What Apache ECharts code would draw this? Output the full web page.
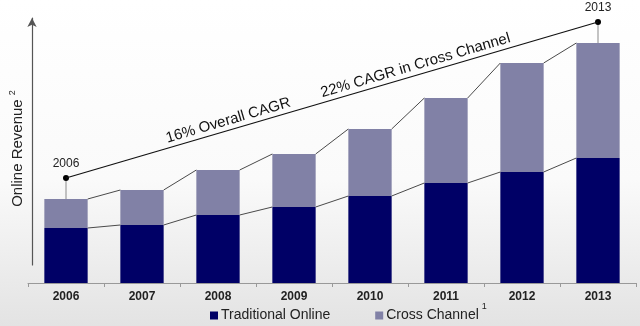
<!DOCTYPE html>
<html><head><meta charset="utf-8">
<script src="https://cdn.jsdelivr.net/npm/echarts@6/dist/echarts.min.js"></script>
<style>html,body{margin:0;padding:0;}#c{width:640px;height:326px;}</style>
</head><body><div id="c"></div>
<script>
const years = ['2006','2007','2008','2009','2010','2011','2012','2013'];
const traditional = [55,58,68,76,87,100,111,125];
const crossChannel = [29,35,45,53,67,85,109,115];
const cagrYears = ['2006','2013'];
const cagrIndex = [0,7];
const cagrValues = [105,261];
const overallLabel = '16% Overall CAGR';
const crossLabel = '22% CAGR in Cross Channel';
const yName = 'Online Revenue';

const totals = traditional.map((v,i)=>v+crossChannel[i]);
const FONT = 'Liberation Sans, Arial, sans-serif';
const chart = echarts.init(document.getElementById('c'));

function connectors(params, api) {
  const i = params.dataIndex;
  if (i >= years.length - 1) return null;
  const half = api.size([1,0])[0] * 0.57 / 2;
  const lines = [];
  [traditional[i], totals[i]].forEach((v, k) => {
    const nv = k === 0 ? traditional[i+1] : totals[i+1];
    const a = api.coord([i, v]), b = api.coord([i+1, nv]);
    lines.push({type:'line', shape:{x1:a[0]+half, y1:a[1], x2:b[0]-half, y2:b[1]},
      style:{stroke:'#4a4a4a', lineWidth:1}});
  });
  return {type:'group', children: lines};
}

function markers(params, api) {
  const idx = cagrIndex[params.dataIndex];
  const p = api.coord([idx, cagrValues[params.dataIndex]]);
  const t = api.coord([idx, totals[idx]]);
  return {type:'group', children:[
    {type:'line', shape:{x1:p[0], y1:p[1], x2:t[0], y2:t[1]}, style:{stroke:'#8a8a8a', lineWidth:1}},
    {type:'circle', shape:{cx:p[0], cy:p[1], r:3}, style:{fill:'#000'}},
    {type:'text', x:p[0], y:p[1]-8, style:{text:cagrYears[params.dataIndex], fill:'#222', font:'12px '+FONT, align:'center', verticalAlign:'bottom'}}
  ]};
}

function cagrLine(params, api) {
  const a = api.coord([cagrIndex[0], cagrValues[0]]);
  const b = api.coord([cagrIndex[1], cagrValues[1]]);
  const ang = Math.atan2(a[1]-b[1], b[0]-a[0]);
  function lab(txt, f) {
    const x = a[0] + (b[0]-a[0])*f, y = a[1] + (b[1]-a[1])*f;
    const off = 2;
    return {type:'text', x: x - Math.sin(ang)*off, y: y - Math.cos(ang)*off, rotation: ang,
      style:{text:txt, fill:'#111', font:'15px '+FONT, align:'center', verticalAlign:'bottom'}};
  }
  return {type:'group', children:[
    {type:'line', shape:{x1:a[0], y1:a[1], x2:b[0], y2:b[1]}, style:{stroke:'#111', lineWidth:1.3}},
    lab(overallLabel, 0.31),
    lab(crossLabel, 0.662)
  ]};
}

chart.setOption({
  backgroundColor: {type:'linear', x:0, y:0, x2:0, y2:1, colorStops:[
    {offset:0, color:'#ffffff'}, {offset:0.55, color:'#fafafa'}, {offset:1, color:'#e3e3e3'}]},
  animation: false,
  grid: [
    {left:28, right:4, top:18, bottom:43},
    {left:29, right:4, top:18, bottom:61}
  ],
  legend: {
    data: ['Traditional Online', 'Cross Channel'],
    top: 297, left: 205, itemWidth: 8, itemHeight: 8, itemGap: 45, icon: 'rect',
    formatter: n => n === 'Cross Channel' ? '{t|Cross Channel}{s|1}' : '{t|' + n + '}',
    textStyle: {color:'#222', fontFamily: FONT, fontSize: 14, padding:[0,0,0,-2],
      rich: {t:{fontSize:14, fontFamily:FONT, color:'#222'}, s:{fontSize:9, fontFamily:FONT, color:'#222', verticalAlign:'top', padding:[0,0,18,3]}}}
  },
  xAxis: [
    {type:'category', data: years, gridIndex:0,
      axisLine:{lineStyle:{color:'#999', width:1}},
      axisTick:{show:true, inside:false, length:4, lineStyle:{color:'#999'}},
      axisLabel:{color:'#222', fontWeight:'bold', fontSize:12, fontFamily:FONT, margin:8}},
    {type:'value', gridIndex:1, show:false, min:0, max:1}
  ],
  yAxis: [
    {type:'value', gridIndex:0, min:0, max:265, show:false},
    {type:'value', gridIndex:1, min:0, max:1, position:'left',
      axisLine:{show:true, symbol:['none','arrow'], symbolSize:[7,9], lineStyle:{color:'#555', width:1.2}},
      axisTick:{show:false}, axisLabel:{show:false}, splitLine:{show:false},
      name: '{t|' + yName + ' }{s|2}', nameLocation:'middle', nameGap:5, nameRotate:90,
      nameTextStyle:{rich:{t:{fontSize:15, fontFamily:FONT, color:'#222'}, s:{fontSize:9, fontFamily:FONT, color:'#222', padding:[0,14,10,0]}}}}
  ],
  series: [
    {name:'Traditional Online', type:'bar', stack:'rev', data: traditional, barWidth:'57%',
      itemStyle:{color:'#000066'}, xAxisIndex:0, yAxisIndex:0},
    {name:'Cross Channel', type:'bar', stack:'rev', data: crossChannel, barWidth:'57%',
      itemStyle:{color:'#8181A6'}, xAxisIndex:0, yAxisIndex:0},
    {type:'custom', renderItem: connectors, data: years.map((y,i)=>i), xAxisIndex:0, yAxisIndex:0, clip:false, z:5},
    {type:'custom', renderItem: markers, data: cagrYears.map((y,i)=>i), xAxisIndex:0, yAxisIndex:0, clip:false, z:6},
    {type:'custom', renderItem: cagrLine, data: [0], xAxisIndex:0, yAxisIndex:0, clip:false, z:6}
  ]
});
</script></body></html>
